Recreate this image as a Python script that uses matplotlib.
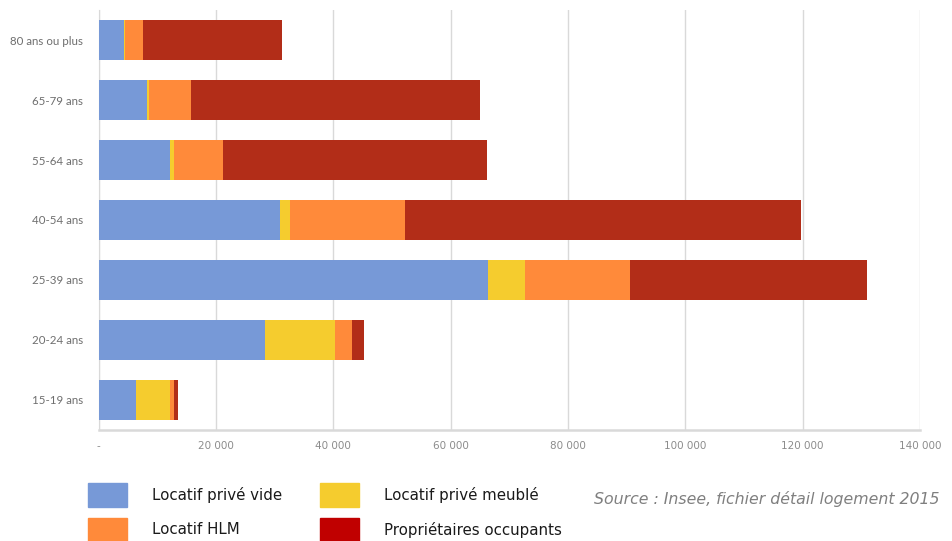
import matplotlib.pyplot as plt
from matplotlib.patches import Rectangle
from matplotlib.ticker import FuncFormatter

# Tranches d'âge (de bas en haut)
ages = ["15-19 ans", "20-24 ans", "25-39 ans", "40-54 ans",
        "55-64 ans", "65-79 ans", "80 ans ou plus"]

prive_vide = [6300, 28400, 66400, 30900, 12150, 8300, 4300]
prive_meuble = [5850, 11900, 6200, 1700, 700, 350, 200]
hlm = [700, 2900, 17900, 19550, 8300, 7050, 3100]
proprietaires = [600, 1950, 40450, 67500, 45050, 49300, 23650]

series = [
    ("Locatif privé vide", prive_vide, "#7799d7", "#7799d7"),
    ("Locatif privé meublé", prive_meuble, "#f5cc2e", "#f5cc2e"),
    ("Locatif HLM", hlm, "#ff8a3a", "#ff8a3a"),
    ("Propriétaires occupants", proprietaires, "#b22d18", "#c00000"),
]

xticks = [0, 20000, 40000, 60000, 80000, 100000, 120000, 140000]


def fmt(v, _pos):
    if v == 0:
        return "-"
    return f"{int(v):,}".replace(",", " ")


fig = plt.figure(figsize=(9.52, 5.41), dpi=100)
ax = fig.add_axes([0.1037, 0.2052, 0.8627, 0.7763])

left = [0] * len(ages)
for name, vals, color, _ in series:
    ax.barh(ages, vals, left=left, height=0.667, color=color,
            linewidth=0, zorder=3)
    left = [a + b for a, b in zip(left, vals)]

ax.set_xlim(0, 140000)
ax.set_ylim(-0.5, 6.5)
ax.set_xticks(xticks)
ax.xaxis.set_major_formatter(FuncFormatter(fmt))
ax.grid(axis="x", color="#d9d9d9", linewidth=1, zorder=0)
for side in ["top", "right"]:
    ax.spines[side].set_visible(False)
ax.spines["left"].set_color("#d9d9d9")
ax.spines["bottom"].set_color("#d9d9d9")
ax.spines["bottom"].set_linewidth(1.8)
ax.tick_params(length=0, pad=8)
ax.tick_params(axis="y", pad=11)
for lab in ax.get_xticklabels():
    lab.set_fontfamily(["Liberation Sans Narrow", "DejaVu Sans"])
    lab.set_fontsize(7.5)
    lab.set_color("#8c8c8c")
for lab in ax.get_yticklabels():
    lab.set_fontfamily(["Lato", "DejaVu Sans"])
    lab.set_fontsize(8.3)
    lab.set_color("#6e6e6e")

# Légende manuelle en bas
W, H = 952, 541
legend_pos = [
    (88, 483, 0),  # Locatif privé vide
    (320, 483, 1),  # Locatif privé meublé
    (88, 518, 2),  # Locatif HLM
    (320, 518, 3),  # Propriétaires occupants
]
for x, y, i in legend_pos:
    name, _, _, lcolor = series[i]
    fig.add_artist(Rectangle((x / W, 1 - (y + 24) / H), 39 / W, 24 / H,
                             transform=fig.transFigure, color=lcolor))
    fig.text((x + 64) / W, 1 - (y + 12) / H, name, fontsize=10.8,
             family="DejaVu Sans", color="#1a1a1a", va="center")

fig.text(940 / W, 1 - 499 / H, "Source : Insee, fichier détail logement 2015",
         fontsize=11.3, style="italic", color="#7f7f7f", ha="right",
         va="center", family="DejaVu Sans")

fig.savefig("out.png", dpi=100)
